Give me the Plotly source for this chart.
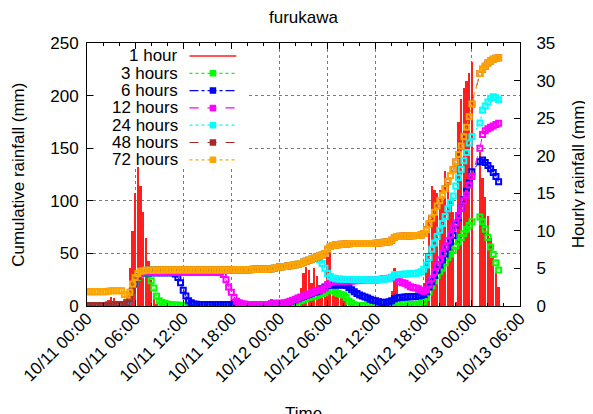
import plotly.graph_objects as go
import pandas as pd

TITLE = "furukawa"
X_TITLE = "Time"
Y_LEFT_TITLE = "Cumulative rainfall (mm)"
Y_RIGHT_TITLE = "Hourly rainfall (mm)"
START = "2019-10-11 00:00"
STEP = "20min"
X_RANGE = ["2019-10-11 00:00", "2019-10-13 06:00"]
Y_LEFT_RANGE = [0, 250]
Y_RIGHT_RANGE = [0, 35]
SERIES_NAMES = ["1 hour", "3 hours", "6 hours", "12 hours", "24 hours", "48 hours", "72 hours"]

# one value every 20 minutes from 10/11 00:00 ; None = missing record
rain_1h = [
    0, 0, 0, 0, 0, 0, 0, 0, 0.8, 1.2, 1.0, 0.3,
    0, 0, 0.5, 2, 5, 10, 15, 18.5, 16, 12.5, 9, 6,
    3.5, 1.2, 0.3, 0, 0, 0, 0, 0, 0, 0, 0, 0,
    0, 0, 0, 0, 0, 0, 0, 0, 0, 0, 0, 0,
    0, 0, 0, 0, 0, 0, 0, 0, 0, 0, 0, 0,
    0, 0, 0, 0, 0, 0, 0, 0, 0, 0.9, 0.6, 0,
    0, 0, 0.3, 0.5, 0.8, 1.0, 1.0, 1.5, 2.4, 4.4, 5.2, 4.8,
    3.0, 5.0, 4.0, 2.8, 1.2, 1.2, 6.5, 7.6, 3.5, 2.1, 2.0, 1.2,
    1.2, 1.2, 1.0, 0.3, 0, 0, 0, 0, 0, 0, 0, 0,
    0.3, 0.8, 1.0, 0.6, 0.8, 0.2, 2.0, 5.0, 3.5, 0.5, 0.3, 0.6,
    0.5, 0.2, 0.3, 0.4, 0.5, 1.0, 3.0, 7.0, 12, 16, 15.5, 15,
    15.5, 14, 18, 16.5, 14, 12.5, 0.5, 24.5, 27.5, 29, 30, 31,
    32.5, None, None, 20.5, 17, 14.5, 12, 9, 6.5, 4.5, 2.5,
]

rain_3h = [
    0.2, 0.2, 0.2, 0.2, 0.2, 0.2, 0.2, 0.2, 0.8, 1.2, 1.2, 1.2,
    1.2, 1.2, 1.5, 3, 7, 14, 21, 27, 30, 31, 31.5, 31,
    24, 17, 9.5, 5, 3.3, 2.5, 2, 1.5, 1, 1, 1, 0.5,
    0.3, 0.3, 0.3, 0.3, 0.3, 0.3, 0.3, 0.3, 0.3, 0.3, 0.3, 0.3,
    0.3, 0.3, 0.3, 0.3, 0.3, 0.3, 0.3, 0.3, 0.3, 0.3, 0.3, 0.3,
    0.3, 0.3, 0.3, 0.3, 0.3, 0.3, 0.3, 0.3, 0.3, 1.0, 1.3, 1.2,
    1.2, 1.2, 1.0, 1.2, 1.8, 2.5, 3.2, 4, 5, 6, 7, 8,
    8.5, 9, 10, 11, 12, 12.5, 14.5, 15.2, 14.5, 13, 12, 11,
    10.5, 8, 4.5, 2.5, 1.2, 0.5, 0.5, 0.5, 0.5, 0.5, 0.5, 0.5,
    0.6, 0.8, 1.0, 1.2, 1.4, 1.5, 2.5, 4.1, 4, 3.5, 3, 2.5,
    2, 1.5, 1.2, 1.5, 2, 2.5, 4, 8, 13, 19, 24, 29,
    33, 36, 41, 46, 49.5, 53, 57, 61, 65, 69, 73, 76.5,
    80.2, None, None, 84.5, 80, 73, 65, 56, 49, 41, 34.2,
]

rain_6h = [
    0.2, 0.2, 0.2, 0.2, 0.2, 0.2, 0.2, 0.2, 0.8, 1.2, 1.2, 1.2,
    1.2, 1.2, 1.5, 3, 7, 14, 21, 28, 31, 31.5, 31.5, 31.5,
    31.5, 31.5, 31.5, 31.5, 31.5, 31.5, 31.5, 31.5, 31.5, 30.5, 27, 22,
    15, 9.5, 5, 3, 2, 1.7, 1.5, 1.5, 1.5, 1.5, 1.5, 1.5,
    1.5, 1.5, 1.5, 1.5, 1.5, 1.5, 1.5, 1.5, 1.5, 1.5, 1.5, 1.5,
    1.5, 1.5, 1.5, 1.5, 1.5, 1.5, 1.5, 1.5, 1.5, 2, 2.2, 2.2,
    2.2, 2.2, 2.5, 3.2, 4, 5, 6, 7, 8, 9, 10, 11,
    12, 13, 13.6, 14.5, 16, 18, 19.5, 20, 20, 20, 20, 20,
    20, 19.5, 17.5, 15.5, 13.5, 12, 10.5, 9.5, 8.5, 7.5, 6.5, 5.5,
    5, 4, 3.5, 3.3, 3.5, 4, 5, 7, 7.5, 8, 8.2, 8.5,
    8.7, 8.8, 8.9, 9, 9.5, 10, 11, 13.6, 18, 23, 29, 34,
    39, 44, 49.5, 56, 61, 67, 77, 84, 93, 101, 109, 117,
    127.7, None, None, 137.2, 138.8, 136.5, 133.5, 130.5, 127, 123, 118.2,
]

rain_12h = [
    0.2, 0.2, 0.2, 0.2, 0.2, 0.2, 0.2, 0.2, 0.8, 1.2, 1.2, 1.2,
    1.2, 1.2, 1.5, 3, 7, 14, 21, 28, 31, 32, 32, 32,
    32, 32, 32, 32, 32, 32, 32, 32, 32, 32, 32, 32,
    32, 32, 32, 32, 32, 32, 32, 32, 32, 32, 32, 32,
    32, 32, 32, 30, 25, 18, 13, 8, 4.5, 3, 2.2, 1.8,
    1.5, 1.5, 1.5, 1.5, 1.5, 1.5, 1.5, 1.5, 1.5, 2.2, 2.5, 2.5,
    2.5, 2.5, 2.8, 3.5, 4.5, 5.5, 6.5, 7.5, 8.5, 9.5, 10.5, 11.5,
    12.5, 13.5, 14.5, 15, 15.5, 17, 20.5, 22.5, 23, 23.2, 23.3, 23.4,
    23.5, 23.5, 23.6, 23.8, 24, 24, 24.2, 24.3, 24.5, 24.5, 24.6, 24.7,
    24.7, 25, 25.5, 25.8, 26, 26.3, 27, 28, 26, 23, 22, 21.6,
    20, 18.4, 17.5, 17, 16.5, 15, 14, 15.5, 20, 26, 32, 38,
    44, 50, 56, 62, 67.5, 74, 79, 86, 93, 100, 105.5, 115,
    123, None, None, 150, 163, 166.5, 168.5, 170, 171, 172.5, 173.6,
]

rain_24h = [
    0.3, 0.3, 0.3, 0.3, 0.3, 0.3, 0.3, 0.3, 0.8, 1.2, 1.2, 1.2,
    1.2, 1.2, 1.5, 3, 7, 14, 21, 28, 32, 33.5, 34, 34,
    34, 34, 34, 34.2, 34.2, 34.2, 34.2, 34.2, 34.2, 34.2, 34.2, 34.2,
    34.2, 34.2, 34.2, 34.2, 34.2, 34.2, 34.2, 34.2, 34.2, 34.2, 34.2, 34.2,
    34.2, 34.2, 34.2, 34.2, 34.2, 34.2, 34.2, 34.5, 34.5, 34.5, 34.5, 34.5,
    34.5, 34.5, 35, 35, 35, 35, 35, 35, 35, 35.5, 36, 36.5,
    37, 37.2, 37.5, 38, 38.3, 38.7, 39.2, 39.8, 40.5, 41.5, 42.5, 43.5,
    44.5, 45.5, 46.5, 44, 40.5, 36, 31, 28, 26.5, 26, 25.7, 25.5,
    25.4, 25.3, 25.2, 25.1, 25, 25, 24.9, 24.9, 24.8, 24.8, 24.8, 24.7,
    24.7, 24.8, 25.2, 25.5, 25.8, 26, 27.5, 29.5, 30, 30, 30.2, 30.4,
    30.5, 30.6, 30.8, 31, 31.5, 32.5, 35, 39, 46, 54, 60, 66,
    72, 78.5, 85, 92.5, 98.5, 104.5, 114, 122, 130, 138, 146, 155,
    161, None, None, 174, 186, 190, 194, 197.5, 199, 198, 196,
]

rain_48h = [
    0.3, 0.3, 0.3, 0.3, 0.3, 0.3, 0.3, 0.3, 0.8, 1.2, 1.2, 1.2,
    1.2, 1.2, 1.5, 3, 7, 14, 21, 28, 32, 33.5, 34, 34,
    34, 34, 34, 34.2, 34.2, 34.2, 34.2, 34.2, 34.2, 34.2, 34.2, 34.2,
    34.2, 34.2, 34.2, 34.2, 34.2, 34.2, 34.2, 34.2, 34.2, 34.2, 34.2, 34.2,
    34.2, 34.2, 34.2, 34.2, 34.2, 34.2, 34.2, 34.5, 34.5, 34.5, 34.5, 34.5,
    34.5, 34.5, 35, 35, 35, 35, 35, 35, 35, 35.5, 36, 36.5,
    37, 37.2, 37.5, 38, 38.3, 38.7, 39.2, 39.8, 40.5, 41.5, 42.5, 43.5,
    44.5, 45.5, 46.5, 47.5, 48.5, 50, 54, 56.5, 57.5, 58, 58.3, 58.6,
    58.8, 59, 59.2, 59.3, 59.5, 59.5, 59.5, 59.5, 59.5, 59.5, 59.5, 59.5,
    59.6, 59.8, 60.2, 60.5, 60.8, 61, 62.5, 65, 66, 66.3, 66.4, 66.5,
    66.6, 66.7, 66.8, 66.9, 67.1, 67.5, 69, 72.5, 78, 83.5, 89, 95,
    100, 105.5, 111.5, 118.5, 124, 129.5, 137, 144, 152, 161, 170, 180,
    192, None, None, 221, 225, 228, 231, 233, 234.5, 235.5, 236,
]

rain_72h = [
    13.5, 13.5, 13.5, 13.5, 13.5, 13.5, 13.5, 13.5, 14, 14.5, 14.5, 14.5,
    14.5, 14.5, 11, 10.5, 13, 21, 27, 31, 33, 33.5, 34, 34,
    34, 34, 34, 34.2, 34.2, 34.2, 34.2, 34.2, 34.2, 34.2, 34.2, 34.2,
    34.2, 34.2, 34.2, 34.2, 34.2, 34.2, 34.2, 34.2, 34.2, 34.2, 34.2, 34.2,
    34.2, 34.2, 34.2, 34.2, 34.2, 34.2, 34.2, 34.5, 34.5, 34.5, 34.5, 34.5,
    34.5, 34.5, 35, 35, 35, 35, 35, 35, 35, 35.5, 36, 36.5,
    37, 37.2, 37.5, 38, 38.3, 38.7, 39.2, 39.8, 40.5, 41.5, 42.5, 43.5,
    44.5, 45.5, 46.5, 47.5, 48.5, 50, 54, 56.5, 57.5, 58, 58.3, 58.6,
    58.8, 59, 59.2, 59.3, 59.5, 59.5, 59.5, 59.5, 59.5, 59.5, 59.5, 59.5,
    59.6, 59.8, 60.2, 60.5, 60.8, 61, 62.5, 65, 66, 66.3, 66.4, 66.5,
    66.6, 66.7, 66.8, 66.9, 67.1, 67.5, 69, 72.5, 78, 83.5, 89, 95,
    100, 105.5, 111.5, 118.5, 124, 129.5, 137, 144, 152, 161, 170, 180,
    192, None, None, 221, 225, 228, 231, 233, 234.5, 235.5, 236,
]

times = pd.date_range(START, periods=len(rain_1h), freq=STEP)

# ---------- styling ----------
FONT = "Liberation Sans, Arial, Helvetica, sans-serif"
FS = 17
PAGE_OFF = 8                       # default body margin of the page
W, H = 593 - PAGE_OFF, 414 - PAGE_OFF
PL, PR, PT, PB = 85, 520, 43, 306  # plot box in page pixels

def px(x):
    return (x - PL) / (PR - PL)

def py(y):
    return (PB - y) / (PB - PT)

BAR_COLOR = "#ff1f1f"
curve_styles = [
    ("3 hours", rain_3h, "#00ff00", "dot"),
    ("6 hours", rain_6h, "#0000ff", "dashdot"),
    ("12 hours", rain_12h, "#ff00ff", "dash"),
    ("24 hours", rain_24h, "#00ffff", "dot"),
    ("48 hours", rain_48h, "#a52a2a", "dash"),
    ("72 hours", rain_72h, "#ffa500", "dot"),
]

fig = go.Figure()
fig.add_trace(go.Bar(
    x=times, y=rain_1h, yaxis="y", name=SERIES_NAMES[0],
    marker=dict(color=BAR_COLOR, line=dict(width=0)),
    width=17 * 60 * 1000, showlegend=False,
))
for name, vals, color, dash in curve_styles:
    fig.add_trace(go.Scatter(
        x=times, y=vals, yaxis="y2", name=name, mode="lines+markers",
        connectgaps=True,
        line=dict(color=color, width=1, dash=dash),
        marker=dict(symbol="square-open", size=5, color=color,
                    line=dict(width=2, color=color)),
        showlegend=False,
    ))

# ---------- custom key (text left of sample, like the original) ----------
key_rows = [56, 73.3, 90.6, 107.9, 125.2, 142.5, 159.8]
key_items = [(SERIES_NAMES[0], BAR_COLOR, "solid", False)] + [
    (n, c, d, True) for n, _, c, d in curve_styles]
shapes = [dict(type="rect", xref="paper", yref="paper",
               x0=px(92), x1=px(246), y0=py(166), y1=py(49),
               fillcolor="white", line=dict(width=0), layer="above")]
annotations = []
for row, (name, color, dash, mk) in zip(key_rows, key_items):
    yy = py(row)
    shapes.append(dict(type="line", xref="paper", yref="paper",
                       x0=px(188), x1=px(235), y0=yy, y1=yy,
                       line=dict(color=color, width=1.5 if not mk else 1.2, dash=dash),
                       layer="above"))
    if mk:
        shapes.append(dict(type="rect", xref="paper", yref="paper",
                           x0=px(209), x1=px(214), y0=py(row + 2.5), y1=py(row - 2.5),
                           line=dict(color=color, width=1.5), fillcolor=color,
                           layer="above"))
    annotations.append(dict(text=name, xref="paper", yref="paper",
                            x=px(178), y=yy, xanchor="right", yanchor="middle",
                            showarrow=False, font=dict(size=FS)))

annotations += [
    dict(text=Y_LEFT_TITLE, xref="paper", yref="paper", x=px(16), y=0.5,
         textangle=-90, showarrow=False, xanchor="center", yanchor="middle",
         font=dict(size=FS)),
    dict(text=Y_RIGHT_TITLE, xref="paper", yref="paper", x=px(579), y=0.5,
         textangle=-90, showarrow=False, xanchor="center", yanchor="middle",
         font=dict(size=FS)),
    dict(text=X_TITLE, xref="paper", yref="paper", x=0.5, y=py(413),
         showarrow=False, xanchor="center", yanchor="middle",
         font=dict(size=FS)),
]

GRID = "#7a7a7a"
fig.update_layout(
    width=W, height=H,
    margin=dict(l=PL - PAGE_OFF, r=W + PAGE_OFF - PR, t=PT - PAGE_OFF,
                b=H + PAGE_OFF - PB, pad=0),
    paper_bgcolor="white", plot_bgcolor="white",
    font=dict(family=FONT, size=FS, color="black"),
    showlegend=False, bargap=0,
    title=dict(text=TITLE, x=0.5, xref="paper", xanchor="center",
               y=1 - (17 - PAGE_OFF) / H, yref="container", yanchor="middle",
               font=dict(size=FS)),
    xaxis=dict(
        type="date", range=X_RANGE, tick0=X_RANGE[0], dtick=6 * 3600 * 1000,
        tickformat="%m/%d %H:%M", tickangle=-45,
        ticks="inside", ticklen=6, tickcolor="black",
        showline=True, linecolor="black", linewidth=1, mirror="ticks",
        showgrid=True, gridcolor=GRID, griddash="dot", gridwidth=1,
        zeroline=False, ticklabelstandoff=-5,
        minor=dict(dtick=2 * 3600 * 1000, ticks="inside", ticklen=3,
                   tickcolor="black", showgrid=False),
    ),
    yaxis=dict(
        range=Y_RIGHT_RANGE, dtick=5, side="right",
        ticks="inside", ticklen=6, tickcolor="black",
        showline=True, linecolor="black", linewidth=1,
        showgrid=False, zeroline=False, ticklabelstandoff=12,
    ),
    yaxis2=dict(
        range=Y_LEFT_RANGE, dtick=50, side="left", overlaying="y", anchor="x",
        ticks="inside", ticklen=6, tickcolor="black",
        showline=True, linecolor="black", linewidth=1,
        showgrid=True, gridcolor=GRID, griddash="dot", gridwidth=1,
        zeroline=False, ticklabelstandoff=4,
    ),
    shapes=shapes, annotations=annotations,
)

fig.write_html("out.html")
